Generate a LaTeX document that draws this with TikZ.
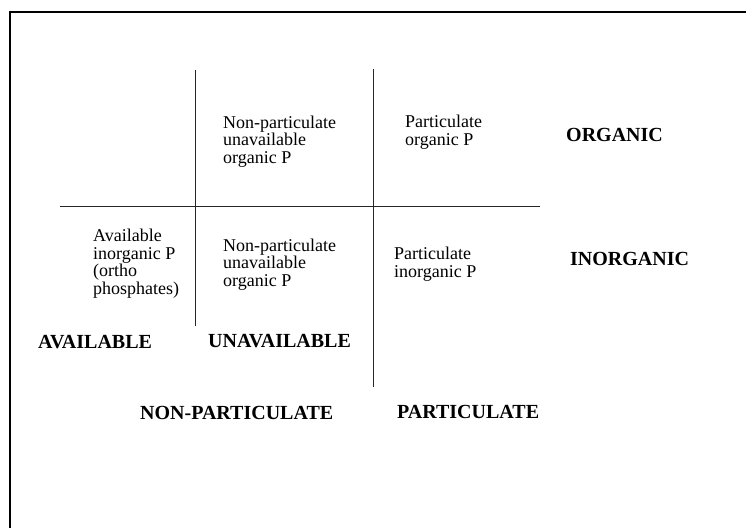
\documentclass[tikz,border=0pt]{standalone}
\usepackage{fontspec}
\setmainfont{Liberation Serif}
\begin{document}
\begin{tikzpicture}[x=1pt,y=-1pt,
  cell/.style={anchor=base west,inner sep=0pt,align=left,font=\fontsize{18}{17.5}\selectfont},
  axislabel/.style={anchor=base west,inner sep=0pt,font=\fontsize{20}{21}\selectfont\bfseries}]
\useasboundingbox (0,0) rectangle (746,528);
\draw [line width=2pt] (10,528) -- (10,11.5) -- (746,11.5);
\draw [thick, black!85] (195,70) -- (195,326);
\draw [thick, black!85] (373,69) -- (373,387);
\draw [thick, black!85] (60,206) -- (540,206);
% cells (placed at the baseline of their last line)
\node[cell] (orgnp) at (223,163) {Non-particulate\\unavailable\\organic P};
\node[cell] (orgp) at (405,145) {Particulate\\organic P};
\node[cell] (avail) at (93,294) {Available\\inorganic P\\(ortho\\phosphates)};
\node[cell] (inorgnp) at (223,286) {Non-particulate\\unavailable\\organic P};
\node[cell] (inorgp) at (394,277) {Particulate\\inorganic P};
% labels
\node[axislabel] (organic) at (566,141) {ORGANIC};
\node[axislabel] (inorganic) at (570,265) {INORGANIC};
\node[axislabel] (available) at (38,348) {AVAILABLE};
\node[axislabel] (unavailable) at (208,347) {UNAVAILABLE};
\node[axislabel] (nonpart) at (140,419) {NON-PARTICULATE};
\node[axislabel] (part) at (397,418) {PARTICULATE};
\end{tikzpicture}
\end{document}
